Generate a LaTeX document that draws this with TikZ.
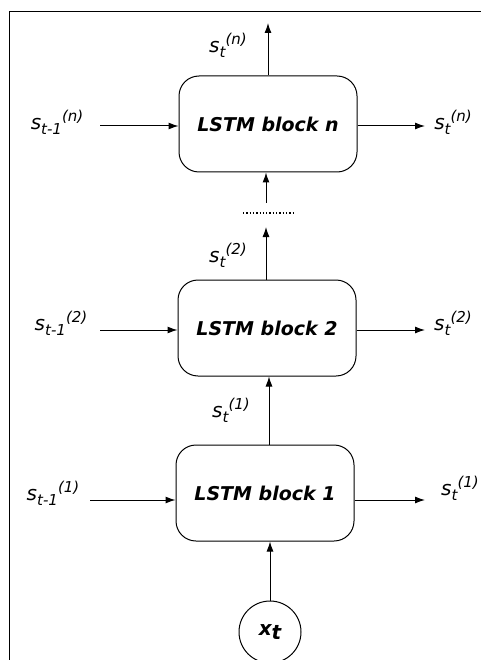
\documentclass[tikz,border=0pt]{standalone}
\usepackage{fontspec}
\setmainfont{DejaVu Sans}
\usetikzlibrary{positioning, arrows.meta}

\tikzset{
  lstm/.style={draw, rounded corners=20pt, minimum width=178pt, minimum height=96pt,
    font=\fontsize{19}{22}\selectfont\bfseries\itshape},
  lab/.style={font=\fontsize{20}{24}\selectfont\itshape, inner sep=0pt},
  flow/.style={-{Latex[length=10pt, width=7pt]}}
}
\newcommand{\st}[2]{s\raisebox{-5pt}{\fontsize{15}{15}\selectfont #1}\raisebox{8pt}{\fontsize{15}{15}\selectfont (#2)}}

\begin{document}
\begin{tikzpicture}[x=1pt, y=-1pt, line width=1pt]
  \useasboundingbox (0,0) rectangle (481,660);
  \draw[thin] (9,660) -- (9,11) -- (481,11);

  % blocks
  \node[lstm] (bn) at (268,124) {LSTM block n};
  \node[lstm] (b2) at (267,328) {LSTM block 2};
  \node[lstm] (b1) at (265,493) {LSTM block 1};
  \node[draw, circle, minimum size=62pt, inner sep=0pt,
        font=\fontsize{20}{24}\selectfont\bfseries\itshape] (x) at (270,632) {x\raisebox{-4pt}{t}};

  % free ends
  \coordinate (top) at (268,23);
  \coordinate (gapin) at (266,203);
  \coordinate (gapout) at (266,227);
  \draw[dotted, line width=1.3pt] (243,213) -- (295,213);

  \foreach \b/\y/\xl in {bn/126/100, b2/330/100, b1/500/90} {
    \coordinate (in\b) at (\xl,\y);
    \coordinate (out\b) at (425,\y);
    \draw[flow] (in\b) -- (in\b -| \b.west);
    \draw[flow] (out\b -| \b.east) -- (out\b);
  }

  % vertical flow
  \draw[flow] (x.north) -- (x.north |- b1.south);
  \draw[flow] (b1.north -| 269,0) -- (b2.south -| 269,0);
  \draw[flow] (b2.north -| gapout) -- (gapout);
  \draw[flow] (gapin) -- (gapin |- bn.south);
  \draw[flow] (bn.north -| top) -- (top);

  % labels
  \node[lab] (ln) at (57,122) {\st{t-1}{n}};
  \node[lab] (l2) at (61,323) {\st{t-1}{2}};
  \node[lab] (l1) at (53,493) {\st{t-1}{1}};
  \node[lab] (rn) at (453,122) {\st{t}{n}};
  \node[lab] (r2) at (453,323) {\st{t}{2}};
  \node[lab] (r1) at (460,488) {\st{t}{1}};
  \node[lab] (un) at (228,45) {\st{t}{n}};
  \node[lab] (u2) at (228,255) {\st{t}{2}};
  \node[lab] (u1) at (231,410) {\st{t}{1}};
\end{tikzpicture}
\end{document}
